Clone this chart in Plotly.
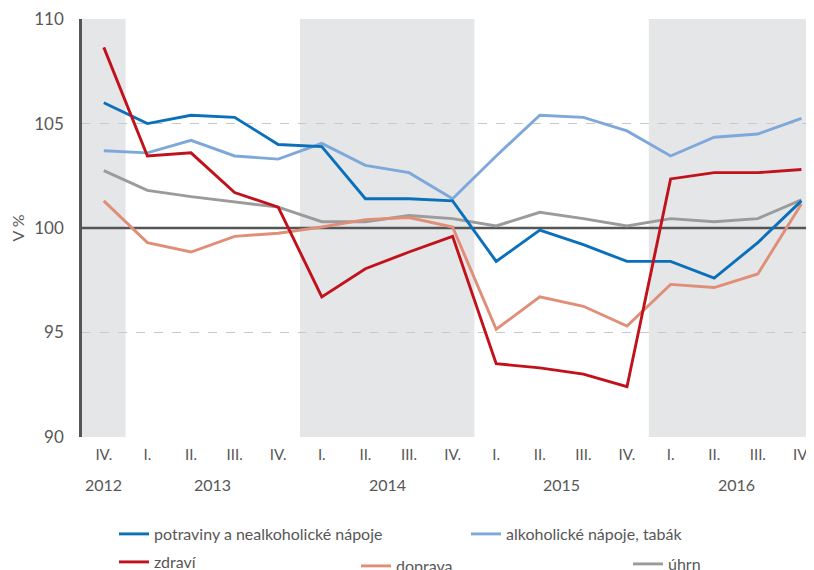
import plotly.graph_objects as go

quarters = ["IV.", "I.", "II.", "III.", "IV.", "I.", "II.", "III.", "IV.",
            "I.", "II.", "III.", "IV.", "I.", "II.", "III.", "IV."]
years = ["2012", "2013", "2014", "2015", "2016"]
year_pos = [0, 2.5, 6.5, 10.5, 14.5]

potraviny = [106.0, 105.0, 105.4, 105.3, 104.0, 103.9, 101.4, 101.4, 101.3,
             98.4, 99.9, 99.2, 98.4, 98.4, 97.6, 99.3, 101.3]
alkohol = [103.7, 103.6, 104.2, 103.45, 103.3, 104.05, 103.0, 102.65, 101.4,
           103.45, 105.4, 105.3, 104.65, 103.45, 104.35, 104.5, 105.25]
zdravi = [108.65, 103.45, 103.6, 101.7, 101.0, 96.7, 98.05, 98.85, 99.6,
          93.5, 93.3, 93.0, 92.4, 102.35, 102.65, 102.65, 102.8]
doprava = [101.3, 99.3, 98.85, 99.6, 99.75, 100.05, 100.4, 100.5, 100.05,
           95.15, 96.7, 96.25, 95.3, 97.3, 97.15, 97.8, 101.15]
uhrn = [102.75, 101.8, 101.5, 101.25, 101.0, 100.3, 100.3, 100.6, 100.45,
        100.1, 100.75, 100.45, 100.1, 100.45, 100.3, 100.45, 101.35]
baseline = 100

names = ["potraviny a nealkoholické nápoje", "alkoholické nápoje, tabák",
         "zdraví", "doprava", "úhrn"]
colors = ["#0A70BA", "#7EA8DA", "#C1121C", "#E08E77", "#9B9B9B"]
series = [potraviny, alkohol, zdravi, doprava, uhrn]
legend_ids = ["legend", "legend2", "legend3", "legend4", "legend5"]

FONT = "Lato"
TXT = "#575757"

x = list(range(len(quarters)))
fig = go.Figure()

# reference line at 100 %
fig.add_trace(go.Scatter(x=[x[0] - 0.5, x[-1] + 0.5], y=[baseline, baseline], mode="lines",
                         line=dict(color="#555555", width=2.6), showlegend=False,
                         hoverinfo="skip"))

order = [4, 3, 1, 0, 2]
for i in order:
    fig.add_trace(go.Scatter(
        x=x, y=series[i], mode="lines", name=names[i],
        line=dict(color=colors[i], width=2.9),
        legend=legend_ids[i], hoverinfo="skip"))

OFF = 8  # page body margin
L, W, T, H = 82 - OFF, 732, 19 - OFF, 418


def px_x(p):
    return (p - OFF - L) / W


def px_y(p):
    return (T + H - (p - OFF)) / H


leg_pos = [(114, 534), (466, 534), (114, 562), (356, 566), (628, 564)]
leg_common = dict(font=dict(family=FONT, size=16, color=TXT), bgcolor="rgba(0,0,0,0)",
                  borderwidth=0, xanchor="left", yanchor="middle", itemwidth=30)
layout_legends = {}
for lid, (lx, ly) in zip(legend_ids, leg_pos):
    layout_legends[lid] = dict(x=px_x(lx), y=px_y(ly), **leg_common)

shapes = []
for a, b in [(-0.5, 0.5), (4.5, 8.5), (12.5, 16.5)]:
    shapes.append(dict(type="rect", xref="x", yref="paper", x0=a, x1=b, y0=0, y1=1,
                       fillcolor="#E5E6E8", line=dict(width=0), layer="below"))

annotations = []
for yr, xp in zip(years, year_pos):
    annotations.append(dict(text=yr, x=xp, xref="x", y=px_y(484), yref="paper",
                            showarrow=False, font=dict(family=FONT, size=16, color=TXT),
                            xanchor="center", yanchor="middle"))

fig.update_layout(
    width=814, height=570,
    margin=dict(l=L, r=814 - L - W, t=T, b=570 - T - H, pad=0, autoexpand=False),
    paper_bgcolor="white", plot_bgcolor="rgba(0,0,0,0)",
    showlegend=True,
    shapes=shapes, annotations=annotations,
    **layout_legends,
    xaxis=dict(tickmode="array", tickvals=x, ticktext=quarters,
               range=[-0.5, -0.5 + W / 43.6], showgrid=False, zeroline=False,
               showline=False, ticks="outside", ticklen=4, tickcolor="rgba(0,0,0,0)",
               tickfont=dict(family=FONT, size=15, color=TXT), fixedrange=True,
               automargin=False),
    yaxis=dict(range=[89.99, 110.01], tickvals=[90, 95, 100, 105, 110], showgrid=True,
               gridcolor="#C9C9C9", griddash="dash", gridwidth=1, zeroline=False,
               showline=True, linecolor="#555555", linewidth=2.6,
               ticks="outside", ticklen=12, tickcolor="rgba(0,0,0,0)",
               tickfont=dict(family=FONT, size=17, color=TXT),
               title=dict(text="V %", font=dict(family=FONT, size=16, color=TXT),
                          standoff=24), fixedrange=True, automargin=False),
)

fig.write_html("out.html")
